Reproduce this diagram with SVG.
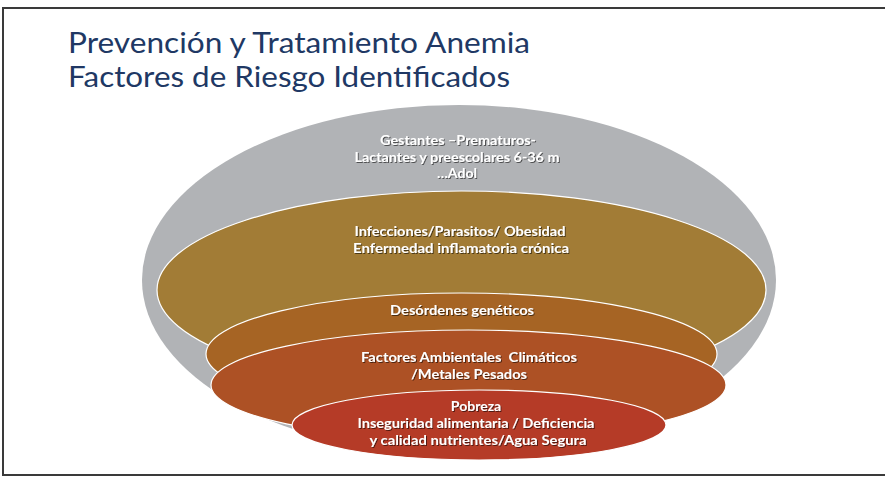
<svg xmlns="http://www.w3.org/2000/svg" width="885" height="477" viewBox="0 0 885 477">
<defs>
<filter id="sh" x="-10%" y="-30%" width="120%" height="160%">
<feDropShadow dx="1" dy="1" stdDeviation="0.7" flood-color="#000" flood-opacity="0.55"/>
</filter>
<style>
.ring{stroke:#ffffff;stroke-width:1.2}
.lbl{font-family:Lato,"Open Sans","Liberation Sans",sans-serif;font-weight:700;font-size:14px;fill:#ffffff;text-anchor:middle;filter:url(#sh)}
.title{font-family:Lato,"Open Sans","Liberation Sans",sans-serif;font-size:28.5px;fill:#203864}
</style>
</defs>
<rect x="0" y="0" width="885" height="477" fill="#ffffff"/>
<rect x="3" y="8" width="890" height="467" fill="none" stroke="#3a3a3a" stroke-width="2"/>
<g id="title">
<text class="title" x="68" y="53" textLength="462" lengthAdjust="spacingAndGlyphs">Prevención y Tratamiento Anemia</text>
<text class="title" x="68" y="87" textLength="442" lengthAdjust="spacingAndGlyphs">Factores de Riesgo Identificados</text>
</g>
<g id="connectors"></g>
<g id="gestantes">
<ellipse cx="459" cy="280" rx="317" ry="175" fill="#B1B3B6"/>
<text class="lbl" x="458" y="145" textLength="156" lengthAdjust="spacingAndGlyphs">Gestantes –Prematuros-</text>
<text class="lbl" x="457" y="162" textLength="205" lengthAdjust="spacingAndGlyphs">Lactantes y preescolares 6-36 m</text>
<text class="lbl" x="457" y="178">…Adol</text>
</g>
<g id="infecciones">
<ellipse class="ring" cx="461.5" cy="290" rx="304.5" ry="99" fill="#A27C36"/>
<text class="lbl" x="460" y="236" textLength="211" lengthAdjust="spacingAndGlyphs">Infecciones/Parasitos/ Obesidad</text>
<text class="lbl" x="461" y="253" textLength="216" lengthAdjust="spacingAndGlyphs">Enfermedad inflamatoria crónica</text>
</g>
<g id="geneticos">
<ellipse class="ring" cx="461.5" cy="354" rx="255.5" ry="61" fill="#A66424"/>
<text class="lbl" x="462" y="315" textLength="144" lengthAdjust="spacingAndGlyphs">Desórdenes genéticos</text>
</g>
<g id="ambientales">
<ellipse class="ring" cx="468.5" cy="385" rx="257.5" ry="55" fill="#AD5125"/>
<text class="lbl" x="469" y="362" textLength="216" lengthAdjust="spacingAndGlyphs" xml:space="preserve">Factores Ambientales  Climáticos</text>
<text class="lbl" x="469" y="379" textLength="116" lengthAdjust="spacingAndGlyphs">/Metales Pesados</text>
</g>
<g id="pobreza">
<ellipse class="ring" cx="479" cy="425" rx="187" ry="35" fill="#B53B27"/>
<text class="lbl" x="476" y="411">Pobreza</text>
<text class="lbl" x="476" y="428" textLength="237" lengthAdjust="spacingAndGlyphs">Inseguridad alimentaria / Deficiencia</text>
<text class="lbl" x="478" y="445" textLength="217" lengthAdjust="spacingAndGlyphs">y calidad nutrientes/Agua Segura</text>
</g>
</svg>
